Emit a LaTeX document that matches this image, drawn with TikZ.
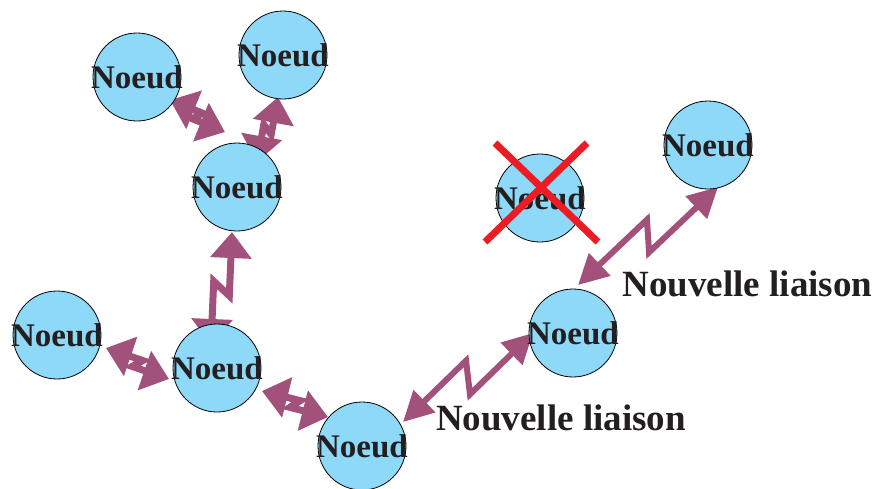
\documentclass[tikz,border=0pt]{standalone}
\usepackage{fontspec}
\setmainfont{Liberation Serif}
\usetikzlibrary{arrows.meta,calc}
\definecolor{nodefill}{RGB}{142,216,248}
\definecolor{linkcol}{RGB}{162,82,122}
\definecolor{crosscol}{RGB}{237,28,36}
\definecolor{txtcol}{RGB}{35,31,32}
\pgfdeclarelayer{bg}
\pgfsetlayers{bg,main}
\newcommand\boltlink[4][]{%
  \draw[#1] (#2) -- ($(#2)!0.55!(#3)!#4!90:(#3)$) -- ($(#2)!0.45!(#3)!#4!-90:(#3)$) -- (#3);}
\tikzset{
  netnode/.style={circle, draw=black, line width=0.8pt, fill=nodefill, minimum size=88pt, inner sep=0pt},
  nodetxt/.style={font=\fontsize{33}{33}\selectfont\bfseries, text=txtcol, inner sep=0pt},
  linktxt/.style={font=\fontsize{37}{37}\selectfont\bfseries, text=txtcol, inner sep=0pt},
  shortlink/.style={draw=linkcol, line width=7pt, line join=miter,
    {Triangle[length=26pt,width=40pt]}-{Triangle[length=26pt,width=40pt]}},
  longlink/.style={draw=linkcol, line width=6pt, line join=miter,
    {Triangle[length=30pt,width=30pt]}-{Triangle[length=30pt,width=30pt]}},
  crossline/.style={draw=crosscol, line width=7pt}
}
\begin{document}
\begin{tikzpicture}[x=1pt,y=-1pt]
\useasboundingbox (0,0) rectangle (878,488);
% nodes
\node[netnode] (n1) at (137,77) {};
\node[netnode] (n2) at (283,55) {};
\node[netnode] (n3) at (237,187) {};
\node[netnode] (n4) at (540,198) {};
\node[netnode] (n5) at (708,145) {};
\node[netnode] (n6) at (57,335) {};
\node[netnode] (n7) at (217,368) {};
\node[netnode] (n8) at (362,446) {};
\node[netnode] (n9) at (573,333) {};
\foreach \i in {1,...,9} {\node[nodetxt] (t\i) at (n\i) {Noeud};}
% link end points
\coordinate (a1) at (170,100); \coordinate (a2) at (225,132);
\coordinate (b1) at (257,162); \coordinate (b2) at (278,97);
\coordinate (c1) at (211,345); \coordinate (c2) at (232,232);
\coordinate (d1) at (106,348); \coordinate (d2) at (169,379);
\coordinate (e1) at (262,391); \coordinate (e2) at (328,417);
\coordinate (f1) at (403,422); \coordinate (f2) at (533,333);
\coordinate (g1) at (578,285); \coordinate (g2) at (718,187);
\begin{pgfonlayer}{bg}
\boltlink[shortlink]{a1}{a2}{5pt}
\boltlink[shortlink]{b1}{b2}{5pt}
\boltlink[shortlink]{c1}{c2}{9pt}
\boltlink[shortlink]{d1}{d2}{5pt}
\boltlink[shortlink]{e1}{e2}{5pt}
\boltlink[longlink]{f1}{f2}{15pt}
\boltlink[longlink]{g1}{g2}{14pt}
\end{pgfonlayer}
% cross over removed node
\coordinate (x1) at (495,143); \coordinate (x2) at (598,242);
\coordinate (x3) at (587,143); \coordinate (x4) at (485,242);
\draw[crossline] (x1) -- (x2);
\draw[crossline] (x3) -- (x4);
% labels
\node[linktxt] (l1) at (747.5,283.5) {Nouvelle liaison};
\node[linktxt] (l2) at (561,417.5) {Nouvelle liaison};
\end{tikzpicture}
\end{document}
